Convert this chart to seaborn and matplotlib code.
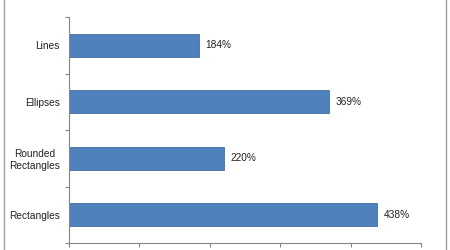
import matplotlib
matplotlib.use("Agg")
import matplotlib.pyplot as plt
import seaborn as sns
import pandas as pd
from matplotlib.lines import Line2D

categories = ["Lines", "Ellipses", "Rounded\nRectangles", "Rectangles"]
values = [184, 369, 220, 438]
value_labels = ["184%", "369%", "220%", "438%"]
x_ticks = [0, 100, 200, 300, 400, 500]

sns.set_theme(style="white")
plt.rcParams["font.family"] = ["Liberation Sans", "DejaVu Sans"]

df = pd.DataFrame({"cat": categories, "val": values})

fig = plt.figure(figsize=(4.5, 2.5), dpi=100)
ax = fig.add_axes([69/450, 7/250, (421-69)/450, (243-17)/250])

sns.barplot(data=df, x="val", y="cat", orient="h", width=0.4,
            color="#4F81BD", saturation=1, edgecolor="#41719C",
            linewidth=0.6, ax=ax)

ax.set_xlim(0, 500)
ax.set_ylim(3.5, -0.5)
ax.set_xlabel("")
ax.set_ylabel("")
ax.set_xticks(x_ticks)
ax.tick_params(axis="x", which="major", direction="out", length=3,
               color="#868686", width=0.8, labelbottom=False, bottom=True)
ax.set_yticks(range(len(categories)))
ax.set_yticklabels(categories, fontsize=7.3, color="#222222", multialignment="center")
ax.set_yticks([-0.5, 0.5, 1.5, 2.5, 3.5], minor=True)
ax.tick_params(axis="y", which="major", length=0, pad=6.5, left=False)
ax.tick_params(axis="y", which="minor", direction="out", length=3,
               color="#868686", width=0.8, left=True)

for s in ["top", "right"]:
    ax.spines[s].set_visible(False)
for s in ["left", "bottom"]:
    ax.spines[s].set_color("#868686")
    ax.spines[s].set_linewidth(0.8)

for i, (v, lab) in enumerate(zip(values, value_labels)):
    ax.annotate(lab, xy=(v, i), xytext=(5, 0), textcoords="offset points",
                va="center", ha="left", fontsize=7.3, color="#222222")

# outer chart-area border (left and right edges visible)
fig.add_artist(Line2D([3.5/450, 3.5/450], [0, 1], transform=fig.transFigure,
                      color="#a0a0a0", linewidth=1))
fig.add_artist(Line2D([445.5/450, 445.5/450], [0, 1], transform=fig.transFigure,
                      color="#a0a0a0", linewidth=1))

fig.savefig("out.png", dpi=100)
